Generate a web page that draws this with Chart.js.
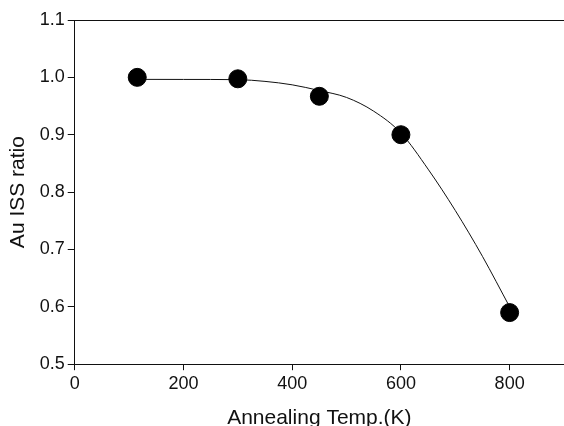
<!DOCTYPE html>
<html>
<head>
<meta charset="utf-8">
<script src="https://cdn.jsdelivr.net/npm/chart.js@4.4.1/dist/chart.umd.min.js"></script>
<style>
  html, body { margin: 0; padding: 0; background: #fff; overflow: hidden; }
  #wrap { position: relative; width: 564px; height: 431px; }
</style>
</head>
<body>
<div id="wrap"><canvas id="chart"></canvas></div>
<script>
// measured points
const temps = [115, 300, 450, 600, 800];
const ratios = [1.000, 0.9975, 0.967, 0.900, 0.590];

// fit curve
const fitTemps = [115, 200, 300, 350, 400, 450, 500, 550, 600, 650, 700, 750, 800];
const fitRatios = [0.9965, 0.9964, 0.996, 0.993, 0.987, 0.977, 0.965, 0.941, 0.903, 0.840, 0.768, 0.688, 0.600];

const xTicks = [0, 200, 400, 600, 800];
const yTicks = [0.5, 0.6, 0.7, 0.8, 0.9, 1.0, 1.1];

const FONT = 'Liberation Sans, Arial, Helvetica, sans-serif';
const INK = '#111';

const toXY = (xs, ys) => xs.map((x, i) => ({ x: x, y: ys[i] }));

new Chart(document.getElementById('chart'), {
  type: 'scatter',
  data: {
    datasets: [
      {
        label: 'fit',
        data: toXY(fitTemps, fitRatios),
        showLine: true,
        borderColor: INK,
        borderWidth: 1,
        pointRadius: 0,
        cubicInterpolationMode: 'monotone',
        order: 2
      },
      {
        label: 'Au ISS ratio',
        data: toXY(temps, ratios),
        backgroundColor: '#000',
        borderColor: '#000',
        pointRadius: 9,
        pointHoverRadius: 9,
        order: 1
      }
    ]
  },
  options: {
    responsive: true,
    maintainAspectRatio: false,
    animation: false,
    layout: { autoPadding: false, padding: { top: 20, left: 6, right: 0, bottom: 0 } },
    plugins: {
      legend: { display: false },
      tooltip: { enabled: false }
    },
    scales: {
      x: {
        type: 'linear',
        min: 0,
        max: 900,
        afterBuildTicks: (scale) => { scale.ticks = xTicks.map(v => ({ value: v })); },
        grid: { drawOnChartArea: false, tickLength: 6, color: INK },
        border: { color: INK, width: 1 },
        ticks: { color: INK, padding: 3, maxRotation: 0, font: { family: FONT, size: 18 } },
        title: {
          display: true,
          text: 'Annealing Temp.(K)',
          color: INK,
          padding: { top: 8, bottom: 0 },
          font: { family: FONT, size: 21 }
        }
      },
      y: {
        type: 'linear',
        min: 0.5,
        max: 1.1,
        afterBuildTicks: (scale) => { scale.ticks = yTicks.map(v => ({ value: v })); },
        grid: {
          drawOnChartArea: true,
          tickLength: 7,
          tickColor: INK,
          color: (ctx) => (ctx.tick && Math.abs(ctx.tick.value - 1.1) < 1e-9 ? INK : 'rgba(0,0,0,0)')
        },
        border: { color: INK, width: 1 },
        ticks: {
          color: INK,
          padding: 3,
          font: { family: FONT, size: 18 },
          callback: (v) => Number(v).toFixed(1)
        },
        title: {
          display: true,
          text: 'Au ISS ratio',
          color: INK,
          padding: { top: 0, bottom: 5.5 },
          font: { family: FONT, size: 21 }
        }
      }
    }
  }
});
</script>
</body>
</html>
